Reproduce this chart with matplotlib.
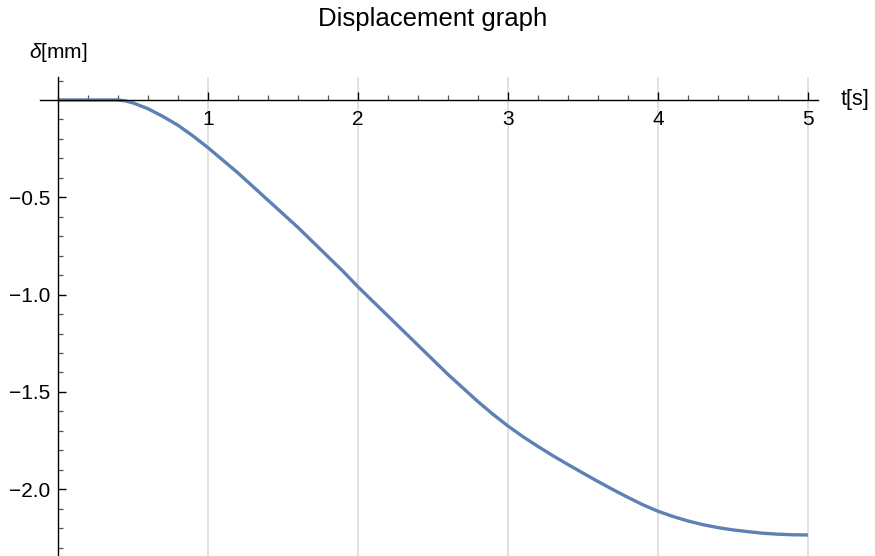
import matplotlib
matplotlib.use("Agg")
import matplotlib.pyplot as plt
from matplotlib.ticker import FixedLocator, MultipleLocator, FixedFormatter

plt.rcParams['font.family'] = ['Liberation Sans', 'DejaVu Sans']
plt.rcParams['mathtext.fontset'] = 'custom'
plt.rcParams['mathtext.it'] = 'Liberation Sans:italic'
plt.rcParams['mathtext.rm'] = 'Liberation Sans'

# data
t = [0.0, 0.2, 0.4, 0.45, 0.5, 0.6, 0.7, 0.8, 0.9, 1.0,
     1.1, 1.2, 1.3, 1.4, 1.5, 1.6, 1.7, 1.8, 1.9, 2.0,
     2.1, 2.2, 2.3, 2.4, 2.5, 2.6, 2.7, 2.8, 2.9, 3.0,
     3.1, 3.2, 3.3, 3.4, 3.5, 3.6, 3.7, 3.8, 3.9, 4.0,
     4.1, 4.2, 4.3, 4.4, 4.5, 4.6, 4.7, 4.8, 4.9, 5.0]
delta = [0.0, 0.0, 0.0, -0.005, -0.015, -0.045, -0.085, -0.13, -0.185, -0.245,
         -0.31, -0.375, -0.445, -0.515, -0.585, -0.655, -0.73, -0.805, -0.88, -0.96,
         -1.035, -1.11, -1.185, -1.26, -1.335, -1.41, -1.48, -1.55, -1.615, -1.675,
         -1.73, -1.78, -1.828, -1.873, -1.917, -1.96, -2.002, -2.042, -2.08, -2.113,
         -2.14, -2.163, -2.182, -2.197, -2.209, -2.218, -2.226, -2.231, -2.234, -2.235]

x_major = [1, 2, 3, 4, 5]
x_labels = ['1', '2', '3', '4', '5']
y_major = [-2.0, -1.5, -1.0, -0.5]
y_labels = ['\u22122.0', '\u22121.5', '\u22121.0', '\u22120.5']

W, H = 875, 556
fig = plt.figure(figsize=(W / 100, H / 100), dpi=100)
ax = fig.add_axes([40 / W, 0.0, (818 - 40) / W, (556 - 77) / H])

ax.set_xlim(-0.12, 5.067)
ax.set_ylim(-2.343, 0.118)

for xv in x_major:
    ax.axvline(xv, color='#d8d8d8', lw=1.1, zorder=0)

ax.plot(t, delta, color='#5E81B5', lw=2.4, solid_capstyle='butt',
        solid_joinstyle='round', zorder=3)

for s in ['top', 'right']:
    ax.spines[s].set_visible(False)
ax.spines['left'].set_position(('data', 0))
ax.spines['bottom'].set_position(('data', 0))
for s in ['left', 'bottom']:
    ax.spines[s].set_linewidth(1.0)
    ax.spines[s].set_zorder(4)

ax.xaxis.set_major_locator(FixedLocator(x_major))
ax.xaxis.set_major_formatter(FixedFormatter(x_labels))
ax.xaxis.set_minor_locator(MultipleLocator(0.2))
ax.yaxis.set_major_locator(FixedLocator(y_major))
ax.yaxis.set_major_formatter(FixedFormatter(y_labels))
ax.yaxis.set_minor_locator(MultipleLocator(0.1))

ax.tick_params(axis='both', which='major', direction='in', length=5.5, width=1.0,
               color='black', labelsize=15)
ax.tick_params(axis='both', which='minor', direction='in', length=3.5, width=0.9,
               color='#555555')
ax.tick_params(axis='x', which='major', pad=7)
ax.tick_params(axis='y', which='major', pad=5.5)

fig.text(433 / W, 1 - 19 / H, 'Displacement graph', ha='center', va='center', fontsize=18.5)
fig.text(58 / W, 1 - 52 / H, r'$\delta$[mm]', ha='center', va='center', fontsize=15)
fig.text(841 / W, 1 - 100 / H, 't[s]', ha='left', va='center', fontsize=15.5)

fig.savefig('out.png', dpi=100)
